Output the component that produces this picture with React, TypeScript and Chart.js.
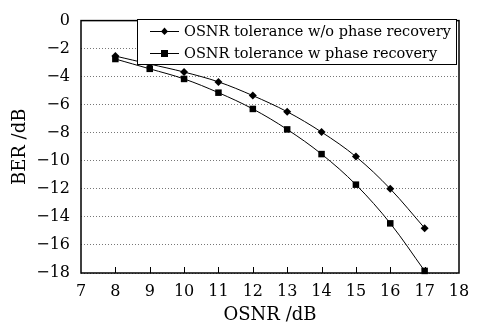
import React, { useEffect, useRef } from "react";
import { Chart, registerables } from "chart.js";

Chart.register(...registerables);

const osnr = [8, 9, 10, 11, 12, 13, 14, 15, 16, 17];
const berWithout = [-2.53, -3.1, -3.67, -4.37, -5.35, -6.5, -7.95, -9.7, -12.0, -14.8];
const berWith = [-2.74, -3.44, -4.16, -5.14, -6.3, -7.76, -9.52, -11.7, -14.46, -17.85];
const seriesLabels = ["OSNR tolerance w/o phase recovery", "OSNR tolerance w phase recovery"];
const seriesMarkers = ["rectRot", "rect"];
const xTitle = "OSNR /dB";
const yTitle = "BER /dB";
const xRange = [7, 18];
const yRange = [-18, 0];

const SERIF = "'DejaVu Serif', 'Liberation Serif', serif";

const framePlugin = {
  id: "frame",
  afterDraw(chart: any) {
    const { ctx, chartArea } = chart;
    const xs = chart.scales.x;
    ctx.save();
    ctx.strokeStyle = "#000";
    ctx.lineWidth = 1.5;
    ctx.strokeRect(chartArea.left, chartArea.top, chartArea.right - chartArea.left, chartArea.bottom - chartArea.top);
    // inner tick marks on x axis
    ctx.lineWidth = 1;
    for (let v = xRange[0] + 1; v < xRange[1]; v++) {
      const px = Math.round(xs.getPixelForValue(v)) + 0.5;
      ctx.beginPath();
      ctx.moveTo(px, chartArea.bottom);
      ctx.lineTo(px, chartArea.bottom - 6);
      ctx.stroke();
    }
    // legend
    const lx = 137, ly = 19, lw = 319, lh = 45;
    ctx.fillStyle = "#fff";
    ctx.fillRect(lx, ly, lw, lh);
    ctx.strokeStyle = "#000";
    ctx.lineWidth = 1;
    ctx.strokeRect(lx + 0.5, ly + 0.5, lw, lh);
    ctx.font = `14.5px ${SERIF}`;
    ctx.textBaseline = "middle";
    ctx.fillStyle = "#000";
    const rows = [31, 53];
    chart.data.datasets.forEach((ds: any, i: number) => {
      const y = rows[i];
      ctx.beginPath();
      ctx.moveTo(150, y + 0.5);
      ctx.lineTo(179, y + 0.5);
      ctx.stroke();
      ctx.beginPath();
      if (ds.pointStyle === "rect") {
        ctx.rect(161, y - 3, 7, 7);
      } else {
        ctx.moveTo(164.5, y - 3.5);
        ctx.lineTo(168, y + 0.5);
        ctx.lineTo(164.5, y + 4);
        ctx.lineTo(161, y + 0.5);
        ctx.closePath();
      }
      ctx.fill();
      ctx.fillText(ds.label, 184, y + 1);
    });
    ctx.restore();
  },
};

export default function App() {
  const ref = useRef<HTMLCanvasElement>(null);
  useEffect(() => {
    if (!ref.current) return;
    const mk = (ys: number[]) => osnr.map((x, i) => ({ x, y: ys[i] }));
    const chart = new Chart(ref.current, {
      type: "line",
      data: {
        datasets: [berWithout, berWith].map((ys, i) => ({
          label: seriesLabels[i],
          data: mk(ys),
          borderColor: "#000",
          backgroundColor: "#000",
          borderWidth: 1,
          pointStyle: seriesMarkers[i] as any,
          pointRadius: i === 0 ? 4 : 4.6,
          pointBorderWidth: 0,
          tension: 0.35,
          clip: false as any,
        })),
      },
      options: {
        animation: false,
        responsive: false,
        layout: { padding: { left: 0, top: 17, right: 23, bottom: 0 } },
        plugins: { legend: { display: false }, tooltip: { enabled: false } },
        scales: {
          x: {
            type: "linear",
            min: xRange[0],
            max: xRange[1],
            border: { display: false },
            grid: { display: false, drawTicks: false },
            ticks: {
              stepSize: 1,
              padding: 9,
              color: "#000",
              font: { family: SERIF, size: 16 },
              maxRotation: 0,
            },
            title: {
              display: true,
              text: xTitle,
              color: "#000",
              font: { family: SERIF, size: 18, lineHeight: 1 },
              padding: { top: -2, bottom: 0 },
            },
            afterFit: (s: any) => { s.height = 51; },
          },
          y: {
            min: yRange[0],
            max: yRange[1],
            border: { display: false, dash: [1, 2] },
            grid: {
              color: "#777",
              lineWidth: 1,
              drawTicks: false,
            },
            ticks: {
              stepSize: 2,
              padding: 11,
              color: "#000",
              font: { family: SERIF, size: 16 },
              callback: (v: any) => (v < 0 ? "\u2212" + Math.abs(v) : String(v)),
            },
            title: {
              display: true,
              text: yTitle,
              color: "#000",
              font: { family: SERIF, size: 18 },
              padding: { top: 10, bottom: 0 },
            },
            afterFit: (s: any) => { s.width = 81; },
          },
        },
      } as any,
      plugins: [framePlugin],
    });
    return () => chart.destroy();
  }, []);
  return (
    <div style={{ position: "absolute", left: 0, top: 0, width: 482, height: 324 }}>
      <canvas ref={ref} width={482} height={324} />
    </div>
  );
}
